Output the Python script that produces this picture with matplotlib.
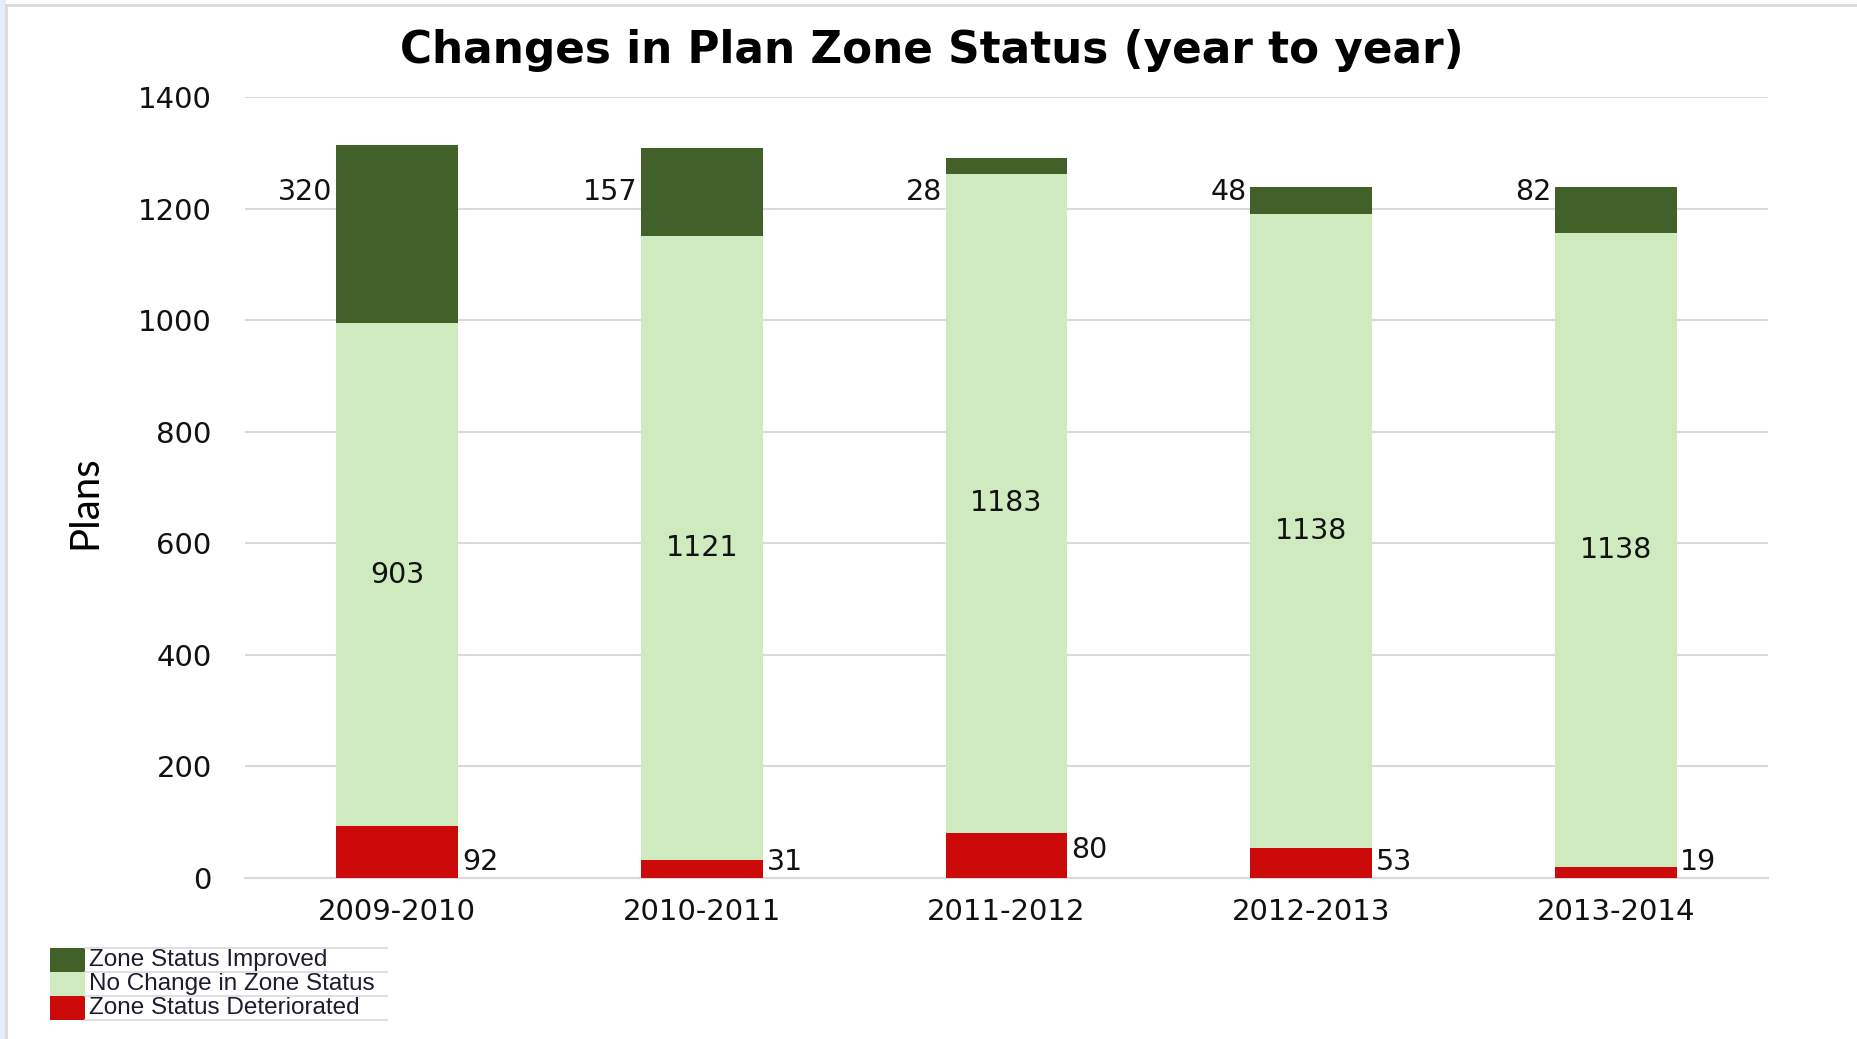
import matplotlib
matplotlib.use("Agg")
import matplotlib.pyplot as plt
from matplotlib.patches import Rectangle
from matplotlib.lines import Line2D

categories = ["2009-2010", "2010-2011", "2011-2012", "2012-2013", "2013-2014"]
deteriorated = [92, 31, 80, 53, 19]
no_change = [903, 1121, 1183, 1138, 1138]
improved = [320, 157, 28, 48, 82]
series_names = ["Zone Status Improved", "No Change in Zone Status", "Zone Status Deteriorated"]
yticks = [0, 200, 400, 600, 800, 1000, 1200, 1400]

c_imp = "#426128"
c_none = "#D0EAC0"
c_det = "#CC0A0A"

W, H = 1857, 1039
fig = plt.figure(figsize=(W / 100, H / 100), dpi=100)
ax = fig.add_axes([245 / W, 1 - 877.6 / H, (1768 - 245) / W, (877.6 - 97.3) / H])

x = list(range(len(categories)))
bw = 0.40
ax.bar(x, deteriorated, bw, color=c_det, zorder=3)
ax.bar(x, no_change, bw, bottom=deteriorated, color=c_none, zorder=3)
bottoms2 = [d + n for d, n in zip(deteriorated, no_change)]
ax.bar(x, improved, bw, bottom=bottoms2, color=c_imp, zorder=3)

ax.set_xlim(-0.5, 4.5)
ax.set_ylim(0, 1400)
ax.set_yticks(yticks)
ax.set_xticks(x)
ax.set_xticklabels(categories)
ax.tick_params(axis="x", length=0, pad=15, labelsize=21, colors="#111111")
ax.tick_params(axis="y", length=0, pad=24, labelsize=21, colors="#111111")
ax.grid(axis="y", color="#D9D9D9", linewidth=1.5, zorder=0)
for s in ["top", "right", "left"]:
    ax.spines[s].set_visible(False)
ax.spines["bottom"].set_color("#D9D9D9")
ax.spines["bottom"].set_linewidth(1.5)

lab_kw = dict(fontsize=20.5, color="#111111", va="center")
for i in x:
    total = bottoms2[i] + improved[i]
    # improved label, left of bar top
    ax.text(i - bw / 2 - 0.012, min(total - 8, 1230), str(improved[i]), ha="right", **lab_kw)
    # no change label, centered
    ax.text(i, deteriorated[i] + no_change[i] / 2, str(no_change[i]), ha="center", **lab_kw)
    # deteriorated label, right of bar bottom
    ydet = 28 if deteriorated[i] != 80 else 49
    ax.text(i + bw / 2 + 0.012, ydet, str(deteriorated[i]), ha="left", **lab_kw)

fig.text(85 / W, 1 - 502 / H, "Plans", rotation=90, ha="center", va="center",
         fontsize=29, family="Lato", color="#000000")
fig.text(932 / W, 1 - 51 / H, "Changes in Plan Zone Status (year to year)", ha="center",
         va="center", fontsize=31.5, family="DejaVu Sans", fontweight="bold", color="#000000")

# legend (table-like)
cols = [c_imp, c_none, c_det]
row_tops = [948, 972, 996]
for name, col, top in zip(series_names, cols, row_tops):
    fig.add_artist(Rectangle((50 / W, 1 - (top + 24) / H), 35 / W, 24 / H,
                             transform=fig.transFigure, facecolor=col, edgecolor="none"))
    fig.text(89 / W, 1 - (top + 12) / H, name, ha="left", va="center", fontsize=17.5,
             family="Liberation Sans", color="#1c1c30")
for yy in [948, 972, 996, 1020]:
    fig.add_artist(Line2D([85 / W, 387 / W], [1 - yy / H, 1 - yy / H],
                          transform=fig.transFigure, color="#D9D9D9", linewidth=1.2))

# outer frame
fig.add_artist(Rectangle((0, 0), 6 / W, 1, transform=fig.transFigure,
                         facecolor="#E3EEF9", edgecolor="none"))
fig.add_artist(Line2D([6 / W, 6 / W], [0, 1 - 5 / H], transform=fig.transFigure,
                      color="#D9D9D9", linewidth=2))
fig.add_artist(Line2D([6 / W, 1], [1 - 5 / H, 1 - 5 / H], transform=fig.transFigure,
                      color="#D9D9D9", linewidth=2))

fig.savefig("out.png", dpi=100, facecolor="white")
